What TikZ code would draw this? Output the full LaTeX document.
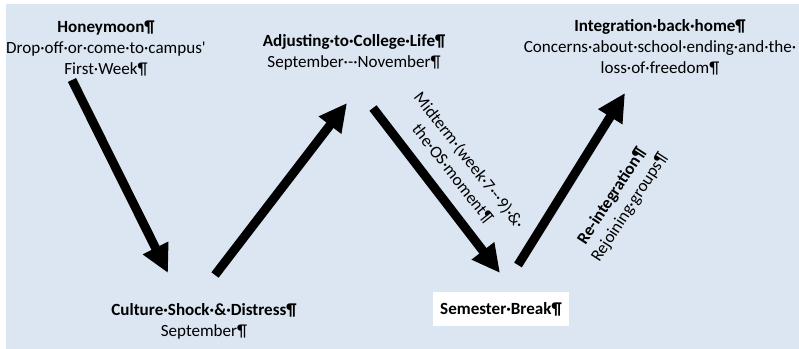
\documentclass[tikz,border=0pt]{standalone}
\usepackage{fontspec}
\setmainfont{Carlito}
\usetikzlibrary{arrows.meta}
\definecolor{paleblue}{RGB}{220,230,242}

\begin{document}
\begin{tikzpicture}[x=0.75pt,y=-0.75pt,
  >={Triangle[width=20pt,length=21pt]},
  bigarrow/.style={->,line width=6.75pt},
  stage/.style={align=center,inner sep=0pt,font=\fontsize{12.8}{15.75}\selectfont}]

  % Background
  \useasboundingbox (0,0) rectangle (799,349);
  \fill[paleblue] (6,4) rectangle (799,349);

  % Stages on top
  \node[stage] (honey) at (106,48) {\textbf{Honeymoon¶}\\Drop·off·or·come·to·campus\textquotesingle\\First·Week¶};
  \node[stage] (adjust) at (354,52) {\textbf{Adjusting·to·College·Life¶}\\September·-·November¶};
  \node[stage] (integ) at (660,47) {\textbf{Integration·back·home¶}\\Concerns·about·school·ending·and·the·\\loss·of·freedom¶};

  % Stages below
  \node[stage] (culture) at (204,321) {\textbf{Culture·Shock·\&·Distress¶}\\September¶};
  \node[stage,fill=white,minimum width=102pt,minimum height=25.5pt] (break) at (501,309) {\textbf{Semester·Break¶}};

  % Side labels
  \node[stage,rotate=-52] (midterm) at (461,167) {Midterm·(week·7·-·9)·\&·\\the·OS·moment¶};
  \node[stage,rotate=57] (reint) at (621,202) {\textbf{Re-integration¶}\\Rejoining·groups¶};

  % Arrow ends
  \coordinate (honey-out) at (72,80);
  \coordinate (culture-in) at (168,273);
  \coordinate (culture-out) at (215,275);
  \coordinate (adjust-in) at (347,103);
  \coordinate (adjust-out) at (373,108);
  \coordinate (break-in) at (500,273);
  \coordinate (break-out) at (518,265);
  \coordinate (integ-in) at (625,93);

  % Arrows
  \draw[bigarrow] (honey-out) -- (culture-in);
  \draw[bigarrow] (culture-out) -- (adjust-in);
  \draw[bigarrow] (adjust-out) -- (break-in);
  \draw[bigarrow] (break-out) -- (integ-in);

\end{tikzpicture}
\end{document}
